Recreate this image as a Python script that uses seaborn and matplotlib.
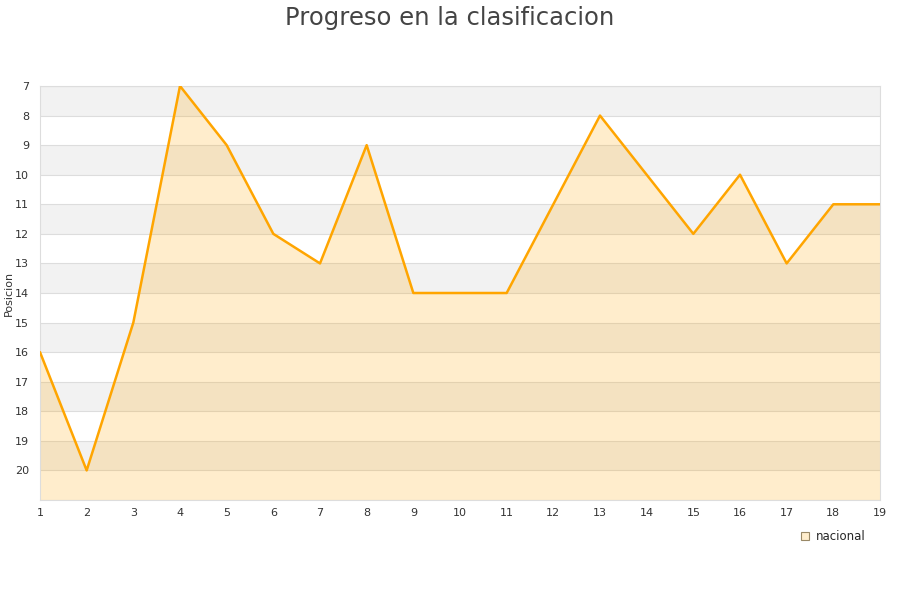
import matplotlib.pyplot as plt
import seaborn as sns
import pandas as pd

# data
jornadas = list(range(1, 20))
posicion = [16, 20, 15, 7, 9, 12, 13, 9, 14, 14, 14, 11, 8, 10, 12, 10, 13, 11, 11]
y_ticks = list(range(7, 21))

df = pd.DataFrame({'jornada': jornadas, 'posicion': posicion})

sns.set_theme(style="white")
plt.rcParams['font.family'] = ['DejaVu Sans']

fig = plt.figure(figsize=(9, 6), dpi=100)
ax = fig.add_axes([40 / 900, 100 / 600, 840 / 900, 414 / 600])

# alternating bands
for y in range(7, 21, 2):
    ax.axhspan(y, y + 1, color='#f2f2f2', zorder=0, lw=0)
for y in range(7, 22):
    ax.axhline(y, color='#dddddd', lw=0.8, zorder=1)

ax.fill_between(df['jornada'], df['posicion'], 21, color='#ffa500', alpha=0.2, lw=0, zorder=2)
sns.lineplot(data=df, x='jornada', y='posicion', ax=ax, color='#ffa500', lw=1.8, zorder=3,
             label='nacional', legend=False)

ax.set_xlim(1, 19)
ax.set_ylim(21, 7)
ax.set_xticks(jornadas)
ax.set_yticks(y_ticks)
ax.tick_params(axis='both', length=0, labelsize=8, labelcolor='#333333', pad=6)
ax.tick_params(axis='y', pad=8)
ax.set_xlabel('')
ax.set_ylabel('Posicion', fontsize=8, color='#333333')
ax.yaxis.set_label_coords(-26 / 840, 0.5)
for s in ax.spines.values():
    s.set_color('#dddddd')
    s.set_linewidth(0.8)

fig.text(0.5, 0.99, 'Progreso en la clasificacion', ha='center', va='top', fontsize=17.5, color='#444444')

# legend entry at the bottom right
h = plt.Line2D([], [], marker='s', ls='', markersize=6, markerfacecolor='#ffedcc',
               markeredgecolor='#998866', markeredgewidth=0.8)
fig.legend([h], ['nacional'], loc='center', bbox_to_anchor=(832 / 900, 1 - 537 / 600),
           frameon=False, fontsize=8.5, handletextpad=0.4, handlelength=1)

fig.savefig('out.png', dpi=100)
